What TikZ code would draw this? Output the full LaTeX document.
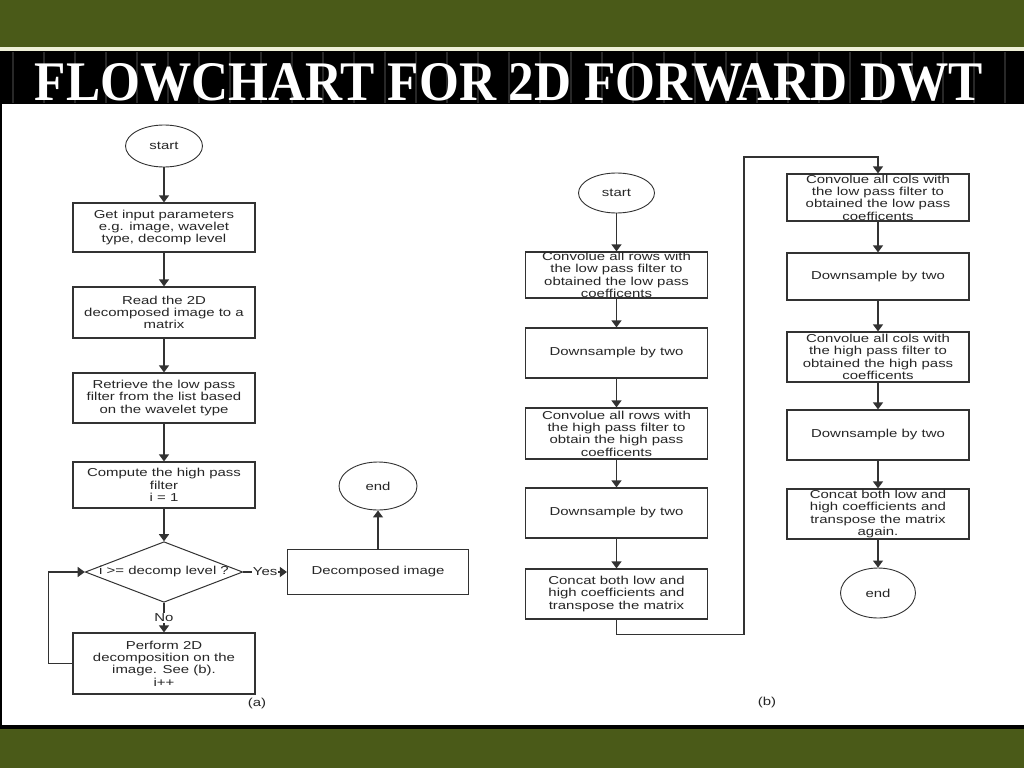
\documentclass[tikz,border=0pt]{standalone}
\usepackage{fontspec}
\usepackage{graphicx}
\usetikzlibrary{arrows.meta,shapes.geometric}
\newfontfamily\chartfont[FakeStretch=1.3]{Liberation Sans}
\newfontfamily\titlefont{Liberation Serif}
\newcommand\boxfont{\chartfont\fontsize{11.5}{12.3}\selectfont}
\definecolor{olivebg}{RGB}{74,90,24}
\definecolor{inkgray}{RGB}{50,50,50}
\definecolor{bandstripe}{RGB}{40,40,40}
\definecolor{creamline}{RGB}{238,240,215}

\tikzset{
  flowbox/.style={draw=inkgray, line width=1.2pt, fill=white, align=center, inner sep=0pt,
    minimum width=182, font=\boxfont, text=black!85},
  termnode/.style={ellipse, draw=inkgray, line width=0.9pt, fill=white, inner sep=0pt,
    font=\boxfont, text=black!85},
  decision/.style={diamond, draw=inkgray, line width=1pt, fill=white, aspect=2.6, inner sep=0pt,
    minimum width=151, minimum height=58, font=\boxfont, text=black!85},
  flowline/.style={draw=inkgray, line width=1.2pt, -{Triangle[width=10pt,length=7pt]}},
  edgetag/.style={fill=white, inner sep=1pt, font=\boxfont, text=black!85}
}

\begin{document}
\begin{tikzpicture}[x=1pt,y=-1pt]
\useasboundingbox (0,0) rectangle (1024,768);
\fill[olivebg] (0,0) rectangle (1024,768);
\fill[creamline] (0,47) rectangle (1024,51);
\fill[black] (0,51) rectangle (1024,104);
\foreach \s in {0,...,32}
  \draw[bandstripe, line width=1.5pt] (13+31*\s,52) -- ++(0,51);
\node[text=white, inner sep=0pt] (title) at (509,82.5)
  {\resizebox{948pt}{37pt}{\titlefont\bfseries FLOWCHART FOR 2D FORWARD DWT}};
\fill[white] (0,104) rectangle (1024,725);
\fill[black] (0,104) rectangle (1.5,725);
\fill[black] (0,725) rectangle (1024,729);

% (a) main loop
\node[termnode, minimum width=77, minimum height=42] (startA) at (164,146) {start};
\node[flowbox, minimum height=49] (getA) at (164,227.5) {Get input parameters\\e.g. image, wavelet\\type, decomp level};
\node[flowbox, minimum height=51] (readA) at (164,312.5) {Read the 2D\\decomposed image to a\\matrix};
\node[flowbox, minimum height=50] (lowA) at (164,398) {Retrieve the low pass\\filter from the list based\\on the wavelet type};
\node[flowbox, minimum height=46] (highA) at (164,485) {Compute the high pass\\filter\\i = 1};
\node[decision] (testA) at (164,572) {i >= decomp level ?};
\node[flowbox, minimum height=61] (decompA) at (164,663.5) {Perform 2D\\decomposition on the\\image. See (b).\\i++};
\node[flowbox, minimum height=45, minimum width=181] (resultA) at (378,572) {Decomposed image};
\node[termnode, minimum width=78, minimum height=48] (endA) at (378,486) {end};
\node[font=\boxfont, text=black!85] (capA) at (257,704) {(a)};

\draw[flowline] (startA) -- (getA);
\draw[flowline] (getA) -- (readA);
\draw[flowline] (readA) -- (lowA);
\draw[flowline] (lowA) -- (highA);
\draw[flowline] (highA) -- (testA);
\draw[flowline] (testA) -- node[edgetag] {Yes} (resultA);
\draw[flowline] (testA) -- node[edgetag] {No} (decompA);
\draw[flowline] (decompA.west) -- ++(-24,0) |- (testA.west);
\draw[flowline] (resultA) -- (endA);

% (b) one decomposition step
\node[termnode, minimum width=76, minimum height=40] (startB) at (616.5,193) {start};
\node[flowbox, minimum height=46] (rowLowB) at (616.5,275) {Convolue all rows with\\the low pass filter to\\obtained the low pass\\coefficents};
\node[flowbox, minimum height=50] (rowLowDown) at (616.5,353) {Downsample by two};
\node[flowbox, minimum height=51] (rowHighB) at (616.5,433.5) {Convolue all rows with\\the high pass filter to\\obtain the high pass\\coefficents};
\node[flowbox, minimum height=50] (rowHighDown) at (616.5,513) {Downsample by two};
\node[flowbox, minimum height=50] (rowCatB) at (616.5,594) {Concat both low and\\high coefficients and\\transpose the matrix};
\node[flowbox, minimum height=47] (colLowB) at (878,197.5) {Convolue all cols with\\the low pass filter to\\obtained the low pass\\coefficents};
\node[flowbox, minimum height=47] (colLowDown) at (878,276.5) {Downsample by two};
\node[flowbox, minimum height=50] (colHighB) at (878,357) {Convolue all cols with\\the high pass filter to\\obtained the high pass\\coefficents};
\node[flowbox, minimum height=50] (colHighDown) at (878,435) {Downsample by two};
\node[flowbox, minimum height=50] (colCatB) at (878,514) {Concat both low and\\high coefficients and\\transpose the matrix\\again.};
\node[termnode, minimum width=75, minimum height=50] (endB) at (878,593) {end};
\node[font=\boxfont, text=black!85] (capB) at (767,703) {(b)};
\coordinate (turnB) at (744,157);

\draw[flowline] (startB) -- (rowLowB);
\draw[flowline] (rowLowB) -- (rowLowDown);
\draw[flowline] (rowLowDown) -- (rowHighB);
\draw[flowline] (rowHighB) -- (rowHighDown);
\draw[flowline] (rowHighDown) -- (rowCatB);
\draw[flowline] (rowCatB.south) -- ++(0,15) -| (turnB) -| (colLowB.north);
\draw[flowline] (colLowB) -- (colLowDown);
\draw[flowline] (colLowDown) -- (colHighB);
\draw[flowline] (colHighB) -- (colHighDown);
\draw[flowline] (colHighDown) -- (colCatB);
\draw[flowline] (colCatB) -- (endB);
\end{tikzpicture}
\end{document}
